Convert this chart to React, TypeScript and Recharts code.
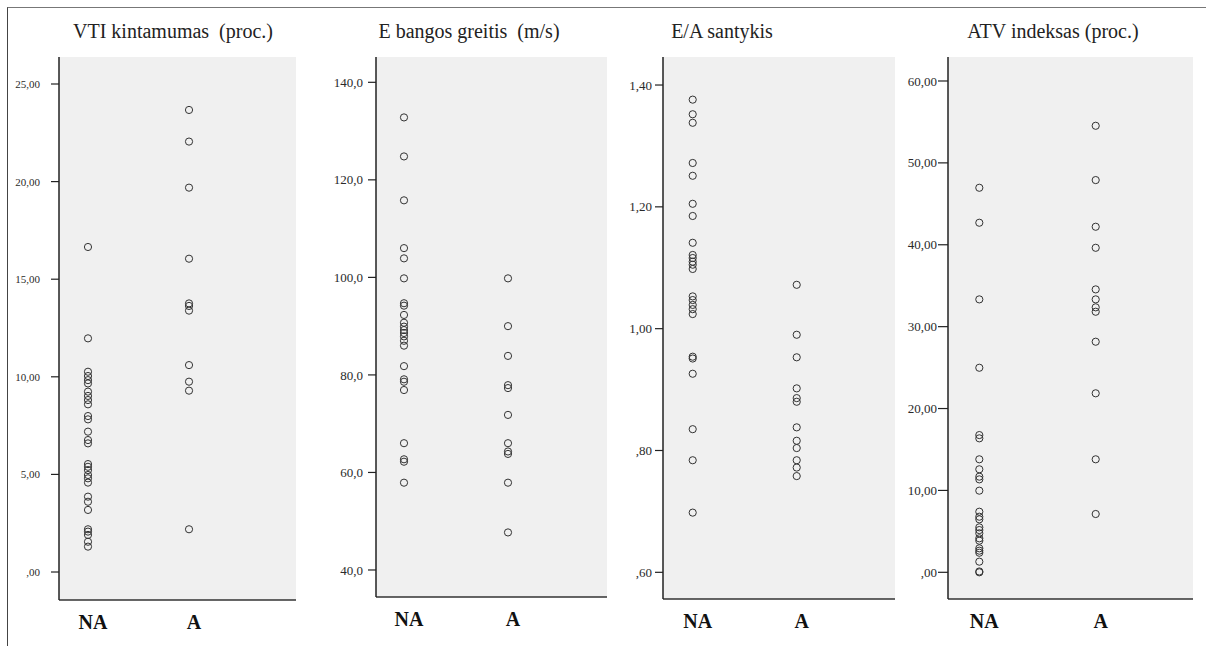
import React from "react";
import { ScatterChart, Scatter, XAxis, YAxis, CartesianGrid } from "recharts";

// ---- data ----
const categories = ["NA", "A"];

const vtiNA = [16.65, 11.97, 10.26, 10.04, 9.83, 9.66, 9.24, 9.02, 8.81, 8.59, 7.99, 7.82, 7.19, 6.76, 6.59, 5.53, 5.39, 5.22, 4.97, 4.8, 4.58, 3.86, 3.6, 3.18, 2.19, 2.07, 1.9, 1.55, 1.3];
const vtiA = [23.67, 22.05, 19.69, 16.05, 13.76, 13.63, 13.39, 10.6, 9.75, 9.29, 2.19];

const eNA = [132.8, 124.8, 115.8, 106.0, 103.9, 99.8, 94.7, 94.2, 92.3, 90.7, 89.9, 89.2, 88.6, 87.9, 87.0, 86.0, 81.8, 79.1, 78.6, 76.9, 66.0, 62.7, 62.2, 57.9];
const eA = [99.8, 90.0, 83.9, 77.9, 77.3, 71.8, 66.0, 64.3, 63.8, 57.9, 47.7];

const eaNA = [1.376, 1.352, 1.338, 1.272, 1.251, 1.205, 1.185, 1.141, 1.121, 1.116, 1.11, 1.105, 1.098, 1.053, 1.047, 1.039, 1.032, 1.024, 0.954, 0.951, 0.926, 0.835, 0.784, 0.698];
const eaA = [1.072, 0.99, 0.953, 0.902, 0.886, 0.88, 0.838, 0.816, 0.804, 0.784, 0.772, 0.758];

const atvNA = [46.96, 42.69, 33.33, 24.98, 16.76, 16.36, 13.8, 12.58, 11.68, 11.35, 9.97, 7.4, 6.79, 6.47, 5.49, 5.16, 4.76, 4.15, 3.86, 2.93, 2.64, 2.39, 1.3, 0.1, 0.0];
const atvA = [54.53, 47.9, 42.2, 39.63, 34.55, 33.33, 32.36, 31.82, 28.16, 21.86, 13.8, 7.12];

const titles = ["VTI kintamumas  (proc.)", "E bangos greitis  (m/s)", "E/A santykis", "ATV indeksas (proc.)"];

const vtiTicks = [0, 5, 10, 15, 20, 25];
const vtiTickLabels = [",00", "5,00", "10,00", "15,00", "20,00", "25,00"];
const eTicks = [40, 60, 80, 100, 120, 140];
const eTickLabels = ["40,0", "60,0", "80,0", "100,0", "120,0", "140,0"];
const eaTicks = [0.6, 0.8, 1.0, 1.2, 1.4];
const eaTickLabels = [",60", ",80", "1,00", "1,20", "1,40"];
const atvTicks = [0, 10, 20, 30, 40, 50, 60];
const atvTickLabels = [",00", "10,00", "20,00", "30,00", "40,00", "50,00", "60,00"];

const SERIF = "'Liberation Serif', 'Times New Roman', Times, 'DejaVu Serif', serif";

// ---- layout config ----
const panels = [
  { title: titles[0], na: vtiNA, a: vtiA, ticks: vtiTicks, labels: vtiTickLabels, left: 0, width: 310, yw: 59, mr: 14, mb: 6, xd: [0.713, 3.059], yd: [-1.434, 26.383], tickSize: 8, tickMargin: 11, fs: 11, titleX: 173 },
  { title: titles[1], na: eNA, a: eA, ticks: eTicks, labels: eTickLabels, left: 300, width: 320, yw: 76, mr: 13, mb: 9, xd: [0.7308, 2.952], yd: [34.46, 145.19], tickSize: 8, tickMargin: 5, fs: 13, titleX: 469 },
  { title: titles[2], na: eaNA, a: eaA, ticks: eaTicks, labels: eaTickLabels, left: 615, width: 295, yw: 48, mr: 15, mb: 7, xd: [0.7144, 2.945], yd: [0.5562, 1.446], tickSize: 8, tickMargin: 3, fs: 13, titleX: 722 },
  { title: titles[3], na: atvNA, a: atvA, ticks: atvTicks, labels: atvTickLabels, left: 895, width: 311, yw: 53, mr: 13, mb: 7, xd: [0.731, 2.836], yd: [-3.26, 62.93], tickSize: 10, tickMargin: 1, fs: 13, titleX: 1053 },
];

const Marker = (props: any) => {
  const { cx, cy } = props;
  if (cx == null || cy == null) return null;
  return <circle cx={cx} cy={cy} r={3.6} fill="none" stroke="#333" strokeWidth={1} />;
};

const CatTick = (props: any) => {
  const { x, y, payload } = props;
  const label = categories[Math.round(payload.value) - 1] ?? "";
  return (
    <text x={x + 5} y={y + 21} textAnchor="middle" fontFamily={SERIF} fontWeight="bold" fontSize={20} fill="#111">
      {label}
    </text>
  );
};

function Panel({ p }: { p: any }) {
  const naData = p.na.map((v: number) => ({ x: 1, y: v }));
  const aData = p.a.map((v: number) => ({ x: 2, y: v }));
  const fmt = (v: number) => {
    const i = p.ticks.findIndex((t: number) => Math.abs(t - v) < 1e-9);
    return i >= 0 ? p.labels[i] : String(v);
  };
  return (
    <div style={{ position: "absolute", left: p.left, top: 0, width: p.width, height: 646 }}>
      <ScatterChart width={p.width} height={646} margin={{ top: 57, right: p.mr, bottom: p.mb, left: 0 }}>
        <CartesianGrid fill="#f0f0f0" horizontal={false} vertical={false} />
        <XAxis
          dataKey="x"
          type="number"
          domain={p.xd}
          ticks={[1, 2]}
          allowDataOverflow
          height={40}
          axisLine={{ stroke: "#333", strokeWidth: 1.5 }}
          tickLine={false}
          tick={<CatTick />}
          interval={0}
        />
        <XAxis xAxisId="top" orientation="top" type="number" domain={p.xd} height={0} tick={false} tickLine={false} axisLine={{ stroke: "#333", strokeWidth: 1.2 }} />
        <YAxis
          dataKey="y"
          type="number"
          domain={p.yd}
          ticks={p.ticks}
          allowDataOverflow
          width={p.yw}
          tickSize={p.tickSize}
          tickMargin={p.tickMargin}
          tickFormatter={fmt}
          interval={0}
          axisLine={{ stroke: "#222", strokeWidth: 1.5 }}
          tickLine={{ stroke: "#222", strokeWidth: 1.2 }}
          tick={{ fontSize: p.fs, fill: "#2a2a2a", fontFamily: SERIF }}
        />
        <YAxis yAxisId="right" orientation="right" type="number" domain={p.yd} width={0} tick={false} tickLine={false} axisLine={{ stroke: "#333", strokeWidth: 1.2 }} />
        <Scatter data={naData} shape={<Marker />} isAnimationActive={false} />
        <Scatter data={aData} shape={<Marker />} isAnimationActive={false} />
      </ScatterChart>
    </div>
  );
}

export default function App() {
  return (
    <div style={{ position: "absolute", left: 0, top: 0, width: 1206, height: 646, background: "#fff", overflow: "hidden" }}>
      <div style={{ position: "absolute", left: 7, top: 7, width: 1199, height: 639, borderTop: "1px solid #777", borderLeft: "1px solid #444" }} />
      {panels.map((p, i) => (
        <Panel key={i} p={p} />
      ))}
      {panels.map((p, i) => (
        <div
          key={"t" + i}
          style={{
            position: "absolute",
            left: p.titleX - 150,
            top: 21,
            width: 300,
            textAlign: "center",
            fontFamily: SERIF,
            fontSize: 20,
            lineHeight: "20px",
            color: "#222",
            whiteSpace: "pre",
          }}
        >
          {p.title}
        </div>
      ))}
    </div>
  );
}
